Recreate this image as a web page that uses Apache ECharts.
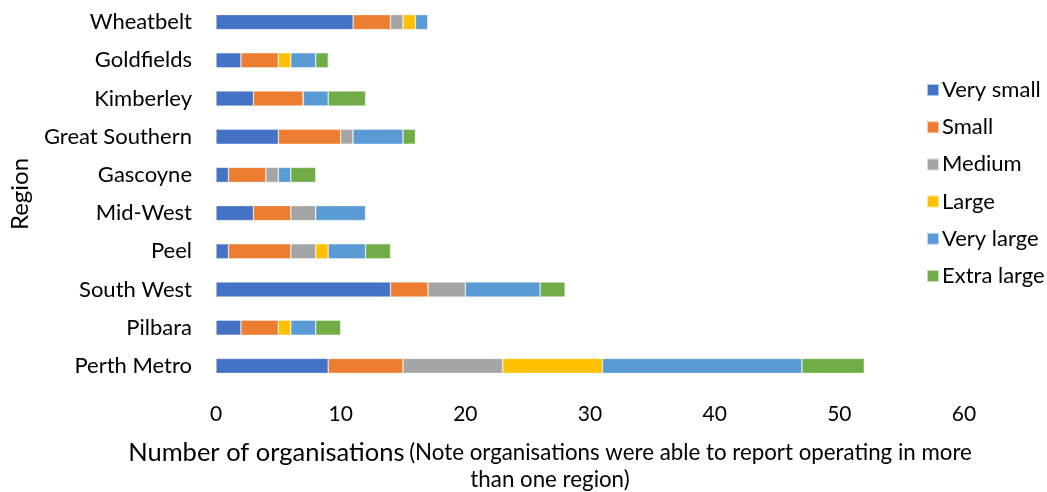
<!DOCTYPE html>
<html>
<head>
<meta charset="utf-8">
<script src="https://cdn.jsdelivr.net/npm/echarts@6/dist/echarts.min.js"></script>
<style>html,body{margin:0;padding:0;background:#fff}#chart{width:1047px;height:492px}</style>
</head>
<body>
<div id="chart"></div>
<script>
// Regions, bottom to top on the category axis
const regions = ['Perth Metro', 'Pilbara', 'South West', 'Peel', 'Mid-West', 'Gascoyne', 'Great Southern', 'Kimberley', 'Goldfields', 'Wheatbelt'];
const sizeNames = ['Very small', 'Small', 'Medium', 'Large', 'Very large', 'Extra large'];
const sizeColors = ['#4472C4', '#ED7D31', '#A5A5A5', '#FFC000', '#5B9BD5', '#70AD47'];

// Organisation counts per region (same order as regions)
const verySmall  = [9, 2, 14, 1, 3, 1, 5, 3, 2, 11];
const small      = [6, 3, 3, 5, 3, 3, 5, 4, 3, 3];
const medium     = [8, 0, 3, 2, 2, 1, 1, 0, 0, 1];
const large      = [8, 1, 0, 1, 0, 0, 0, 0, 1, 1];
const veryLarge  = [16, 2, 6, 3, 4, 1, 4, 2, 2, 1];
const extraLarge = [5, 2, 2, 2, 0, 2, 1, 3, 1, 0];

const xTicks = { min: 0, max: 60, interval: 10 };
const seriesValues = [verySmall, small, medium, large, veryLarge, extraLarge];

const font = 'Lato, "Open Sans", sans-serif';
const chart = echarts.init(document.getElementById('chart'));
chart.setOption({
  animation: false,
  textStyle: { fontFamily: font },
  grid: { left: 216, right: 83, top: 3, bottom: 107, containLabel: false },
  title: {
    left: 545, top: 434, textAlign: 'center',
    text: '{a|Number of organisations} {b|(Note organisations were able to report operating in more}\n{b|than one region)}',
    textStyle: {
      fontFamily: font, fontWeight: 'normal',
      rich: {
        a: { fontSize: 25.5, color: '#000', fontFamily: font, fontWeight: 'normal', lineHeight: 27 },
        b: { fontSize: 22.3, color: '#000', fontFamily: font, fontWeight: 'normal', lineHeight: 27 }
      }
    }
  },
  legend: {
    orient: 'vertical', left: 921, top: 74, itemGap: 15.2,
    itemWidth: 12, itemHeight: 12, icon: 'rect',
    textStyle: { fontSize: 22, color: '#000', fontFamily: font, padding: [0, 0, 0, -2] },
    data: sizeNames
  },
  xAxis: {
    type: 'value', min: xTicks.min, max: xTicks.max, interval: xTicks.interval,
    axisLine: { show: false }, axisTick: { show: false }, splitLine: { show: false },
    axisLabel: { fontSize: 21, color: '#000', margin: 19, fontFamily: font }
  },
  yAxis: {
    type: 'category', data: regions,
    name: 'Region', nameLocation: 'middle', nameGap: 184, nameRotate: 90,
    nameTextStyle: { fontSize: 24, color: '#000', fontFamily: font },
    axisLine: { show: false }, axisTick: { show: false },
    axisLabel: { fontSize: 22, color: '#000', margin: 24, fontFamily: font }
  },
  series: sizeNames.map((n, i) => ({
    name: n, type: 'bar', stack: 'total', barWidth: 15,
    itemStyle: { color: sizeColors[i], borderColor: 'rgba(255,255,255,0.6)', borderWidth: 0.6 },
    data: seriesValues[i]
  }))
});
</script>
</body>
</html>
